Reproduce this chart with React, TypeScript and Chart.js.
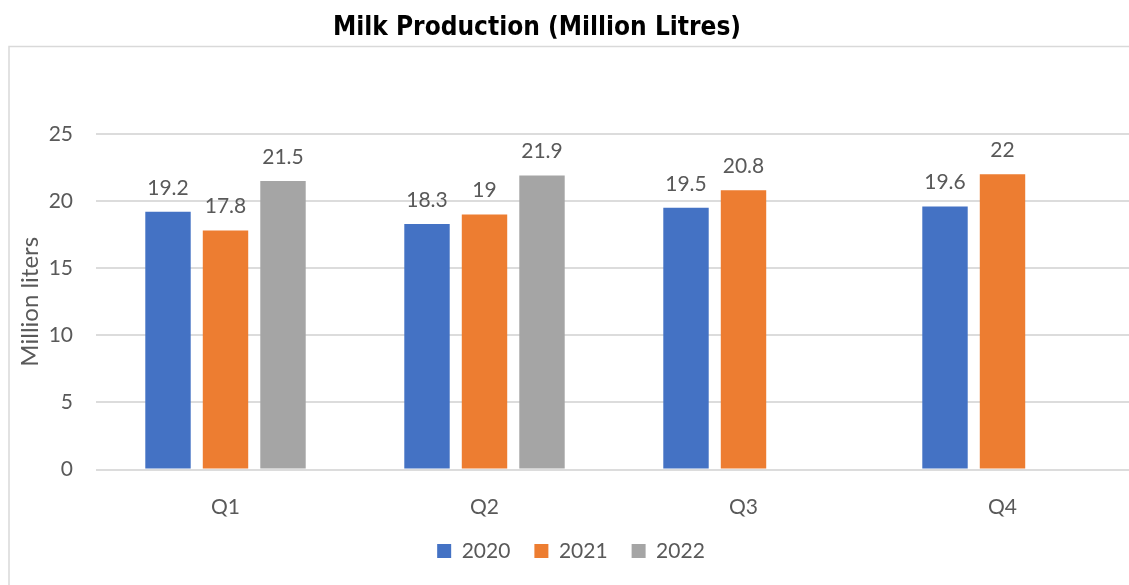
import React, { useEffect, useRef } from "react";
import { Chart, registerables } from "chart.js";

Chart.register(...registerables);

const categories = ["Q1", "Q2", "Q3", "Q4"];
const seriesLabels = ["2020", "2021", "2022"];
const values2020 = [19.2, 18.3, 19.5, 19.6];
const values2021 = [17.8, 19, 20.8, 22];
const values2022: (number | null)[] = [21.5, 21.9, null, null];
const yTickStep = 5;
const yMin = 0;
const yMax = 25;

const colors = ["#4472C4", "#ED7D31", "#A5A5A5"];
const TEXT = "#595959";
const FONT = "Lato, 'Open Sans', sans-serif";
const TITLE_FONT = "'Liberation Sans Narrow', 'DejaVu Sans Condensed', 'Liberation Sans', sans-serif";

const frame = {
  id: "frame",
  beforeDraw(chart: any) {
    const ctx = chart.ctx;
    ctx.save();
    ctx.strokeStyle = "#d9d9d9";
    ctx.lineWidth = 1.5;
    ctx.strokeRect(9, 46.5, 3000, 3000);
    ctx.restore();
  },
};

const shiftTitle = {
  id: "shiftTitle",
  afterLayout(chart: any) {
    const t = chart.titleBlock;
    if (!t) return;
    const center = 537;
    const w = t.right - t.left;
    t.left = center - w / 2;
    t.right = center + w / 2;
  },
};

const dataLabels = {
  id: "dataLabels",
  afterDatasetsDraw(chart: any) {
    const ctx = chart.ctx;
    ctx.save();
    ctx.font = `21px ${FONT}`;
    ctx.fillStyle = TEXT;
    ctx.textAlign = "center";
    ctx.textBaseline = "middle";
    chart.data.datasets.forEach((ds: any, di: number) => {
      const meta = chart.getDatasetMeta(di);
      meta.data.forEach((el: any, i: number) => {
        const v = ds.data[i];
        if (v === null || v === undefined) return;
        ctx.fillText(String(v), el.x, el.y - 24);
      });
    });
    ctx.restore();
  },
};

export default function App() {
  const ref = useRef<HTMLCanvasElement | null>(null);
  useEffect(() => {
    if (!ref.current) return;
    const chart = new Chart(ref.current, {
      type: "bar",
      data: {
        labels: categories,
        datasets: [values2020, values2021, values2022].map((d, i) => ({
          label: seriesLabels[i],
          data: d,
          backgroundColor: colors[i],
          borderWidth: 0,
          categoryPercentage: 0.666,
          barPercentage: 0.79,
        })),
      },
      options: {
        animation: false,
        responsive: false,
        layout: { padding: { left: 10, right: 0, top: 0, bottom: 13.5 } },
        scales: {
          x: {
            grid: { display: false },
            border: { display: false },
            ticks: { color: TEXT, font: { family: FONT, size: 21 }, padding: 17 },
            afterFit(scale: any) {
              scale.height = 47;
            },
          },
          y: {
            min: yMin,
            max: yMax,
            border: { display: false },
            grid: { color: "#dcdcdc", lineWidth: 2, drawTicks: false },
            ticks: { stepSize: yTickStep, color: TEXT, font: { family: FONT, size: 21 }, padding: 23 },
            title: {
              display: true,
              text: "Million liters",
              color: TEXT,
              font: { family: FONT, size: 24, lineHeight: 1.2 },
              padding: { top: 6, bottom: 0 },
            },
            afterFit(scale: any) {
              scale.width = 86;
            },
          },
        },
        plugins: {
          title: {
            display: true,
            text: "Milk Production (Million Litres)",
            color: "#000000",
            font: { family: TITLE_FONT, size: 26, weight: "bold", lineHeight: 1.2 },
            padding: { top: 13, bottom: 89.8 },
          },
          legend: {
            position: "bottom",
            labels: {
              color: TEXT,
              font: { family: FONT, size: 21 },
              boxWidth: 14,
              boxHeight: 14,
              padding: 24,
            },
          },
          tooltip: { enabled: false },
        },
      },
      plugins: [frame, shiftTitle, dataLabels],
    } as any);
    return () => chart.destroy();
  }, []);
  return (
    <div style={{ position: "absolute", left: 0, top: 0, width: 1129, height: 585, overflow: "hidden", background: "#fff" }}>
      <canvas ref={ref} width={1132} height={585} style={{ display: "block" }} />
    </div>
  );
}
